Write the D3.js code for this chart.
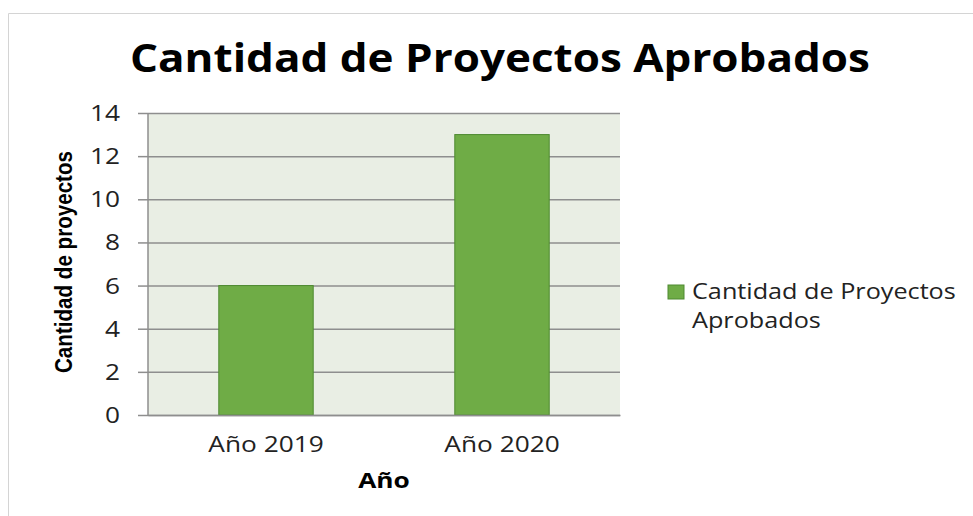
<!DOCTYPE html>
<html>
<head>
<meta charset="utf-8">
<script src="https://cdn.jsdelivr.net/npm/d3@7"></script>
<style>
  body { margin: 0; background: #fff; }
  text { font-family: "Open Sans", "Noto Sans", sans-serif; }
</style>
</head>
<body>
<div id="main"></div>
<script>
// chart data
const categories = ["Año 2019", "Año 2020"];
const values = [6, 13];
const yTicks = [0, 2, 4, 6, 8, 10, 12, 14];
const seriesName = ["Cantidad de Proyectos", "Aprobados"];

const ctx = {width: 973, height: 516,
  left: 148, right: 620, top: 113, bottom: 415,
  stretch: 1.25};

// the original picture is a bit wider than tall, widen glyphs the same way
function widen(sel, k) {
  sel.each(function() {
    const w = this.getComputedTextLength();
    d3.select(this)
      .attr("textLength", w * k)
      .attr("lengthAdjust", "spacingAndGlyphs");
  });
}

const svg = d3.select("#main").append("svg")
  .attr("width", ctx.width)
  .attr("height", ctx.height);

// frame lines of the original picture
svg.append("path")
  .attr("d", "M8.5,516 V13.5 H973")
  .attr("fill", "none")
  .attr("stroke", "#d4d4d4");

const x = d3.scaleBand()
  .domain(categories)
  .range([ctx.left, ctx.right])
  .paddingInner(0.6)
  .paddingOuter(0.3);

const y = d3.scaleLinear()
  .domain([0, 14])
  .range([ctx.bottom, ctx.top]);

// plot background
svg.append("rect")
  .attr("x", ctx.left).attr("y", ctx.top)
  .attr("width", ctx.right - ctx.left)
  .attr("height", ctx.bottom - ctx.top)
  .attr("fill", "#e9eee4");

// y axis with gridlines
const yAxis = svg.append("g")
  .attr("transform", "translate(" + ctx.left + ",0)")
  .call(d3.axisLeft(y).tickValues(yTicks)
    .tickSize(10).tickPadding(18)
    .tickFormat(d3.format("d")));
yAxis.select(".domain").remove();
yAxis.selectAll(".tick line").clone()
  .attr("x1", 0).attr("x2", ctx.right - ctx.left);
yAxis.selectAll(".tick line").attr("stroke", "#8e8e8e").attr("stroke-width", 1.5);
yAxis.selectAll(".tick text")
  .style("font-size", "21px")
  .attr("dy", "0.36em")
  .attr("fill", "#222")
  .call(widen, ctx.stretch);

// left edge of plot
svg.append("line")
  .attr("x1", ctx.left).attr("x2", ctx.left)
  .attr("y1", ctx.top).attr("y2", ctx.bottom)
  .attr("stroke", "#8e8e8e").attr("stroke-width", 1.5);

// bars
svg.append("g").selectAll("rect")
  .data(values)
  .enter().append("rect")
  .attr("x", (d, i) => x(categories[i]))
  .attr("y", d => y(d))
  .attr("width", x.bandwidth())
  .attr("height", d => y(0) - y(d))
  .attr("fill", "#6fac46")
  .attr("stroke", "#4e8a30")
  .attr("stroke-width", 1);

// x axis
const xAxis = svg.append("g")
  .attr("transform", "translate(0," + ctx.bottom + ")")
  .call(d3.axisBottom(x).tickSize(0).tickPadding(22));
xAxis.select(".domain").attr("stroke", "#8e8e8e").attr("stroke-width", 1.5);
xAxis.selectAll(".tick text")
  .style("font-size", "21px")
  .attr("fill", "#222")
  .call(widen, ctx.stretch);

// title
svg.append("text")
  .attr("x", 500).attr("y", 72)
  .attr("text-anchor", "middle")
  .attr("textLength", 740)
  .attr("lengthAdjust", "spacingAndGlyphs")
  .style("font-size", "39px")
  .style("font-weight", "bold")
  .attr("fill", "#000")
  .text("Cantidad de Proyectos Aprobados");

// axis titles
svg.append("text")
  .attr("transform", "translate(72,262) rotate(-90)")
  .attr("text-anchor", "middle")
  .attr("textLength", 222)
  .attr("lengthAdjust", "spacingAndGlyphs")
  .style("font-family", "'Liberation Sans Narrow', 'Liberation Sans', sans-serif")
  .style("font-size", "23px")
  .style("font-weight", "bold")
  .attr("fill", "#000")
  .text("Cantidad de proyectos");

svg.append("text")
  .attr("x", (ctx.left + ctx.right) / 2).attr("y", 488)
  .attr("text-anchor", "middle")
  .style("font-size", "21px")
  .style("font-weight", "bold")
  .attr("fill", "#000")
  .text("Año")
  .call(widen, ctx.stretch);

// legend
const legend = svg.append("g").attr("transform", "translate(668,285)");
legend.append("rect")
  .attr("width", 16).attr("height", 14)
  .attr("fill", "#6fac46")
  .attr("stroke", "#4e8a30");
legend.selectAll("text.lbl")
  .data(seriesName)
  .enter().append("text")
  .attr("class", "lbl")
  .attr("x", 24)
  .attr("y", (d, i) => 14 + i * 29)
  .style("font-size", "21px")
  .attr("fill", "#222")
  .text(d => d)
  .call(widen, 1.2);
</script>
</body>
</html>
